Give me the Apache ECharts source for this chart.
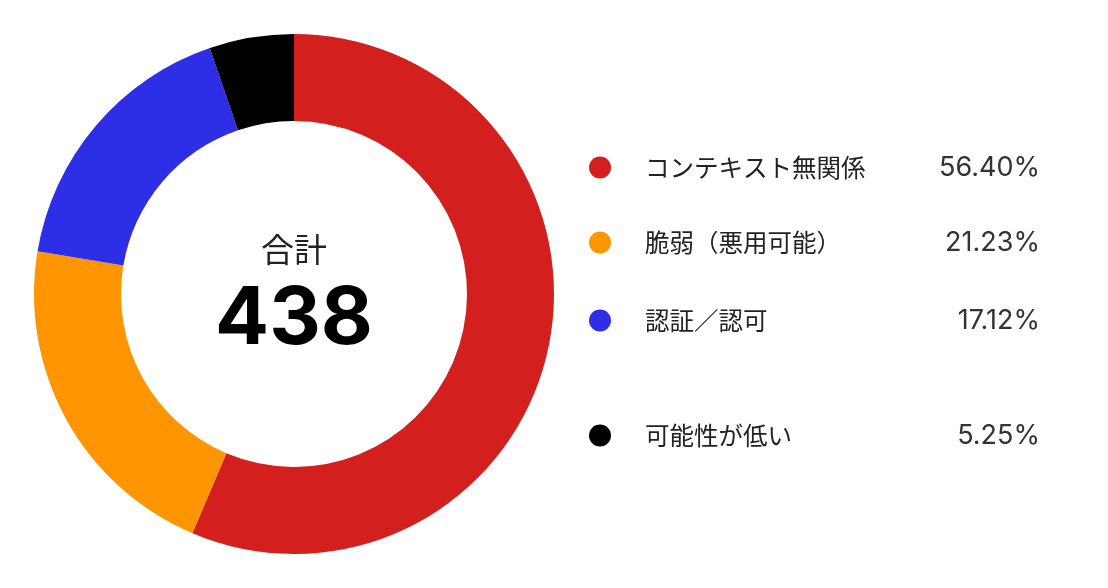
<!DOCTYPE html>
<html>
<head>
<meta charset="utf-8">
<script src="https://cdn.jsdelivr.net/npm/echarts@6/dist/echarts.min.js"></script>
<style>
html,body{margin:0;padding:0;background:#fff;}
#chart{width:1108px;height:588px;}
</style>
</head>
<body>
<div id="chart"></div>
<script>
var fontFamily='"Noto Sans CJK JP","Noto Sans",sans-serif';
var numFont='Inter,Roboto,"Noto Sans",sans-serif';
var names=['コンテキスト無関係','脆弱（悪用可能）','認証／認可','可能性が低い'];
var values=[247,93,75,23];
var pctLabels=['56.40%','21.23%','17.12%','5.25%'];
var colors=['#D41F1F','#FF9500','#2E2EE6','#000000'];
var legendRows=[165,240,318,433];

var total=0;
for(var i=0;i<values.length;i++){total+=values[i];}

var legends=[];
for(var i=0;i<names.length;i++){
    legends.push({
        data:[names[i]],
        left:589,
        top:legendRows[i]-11,
        padding:0,
        icon:'circle',
        itemWidth:22,
        itemHeight:22,
        selectedMode:false,
        formatter:function(name){
            return '{n|'+name+'}{p|'+pctLabels[names.indexOf(name)]+'}';
        },
        textStyle:{
            rich:{
                n:{width:262,padding:[0,0,0,29],fontSize:24.5,color:'#222',fontFamily:fontFamily},
                p:{width:133,align:'right',fontSize:27,color:'#333',fontFamily:numFont}
            }
        }
    });
}

var seriesData=[];
for(var i=0;i<names.length;i++){
    seriesData.push({name:names[i],value:values[i],itemStyle:{color:colors[i]}});
}

var chart=echarts.init(document.getElementById('chart'));
var option={
    animation:false,
    legend:legends,
    graphic:[
        {type:'text',style:{text:'合計',x:294,y:249,align:'center',verticalAlign:'middle',fontSize:33,fill:'#222',fontFamily:fontFamily}},
        {type:'text',style:{text:String(total),x:294,y:320,align:'center',verticalAlign:'middle',fontSize:80,fontWeight:'bold',fill:'#000',fontFamily:numFont}}
    ],
    series:[
        {
            type:'pie',
            center:[294,294],
            radius:[173,260],
            startAngle:90,
            clockwise:true,
            label:{show:false},
            labelLine:{show:false},
            emphasis:{disabled:true},
            data:seriesData
        }
    ]
};
chart.setOption(option);
</script>
</body>
</html>
